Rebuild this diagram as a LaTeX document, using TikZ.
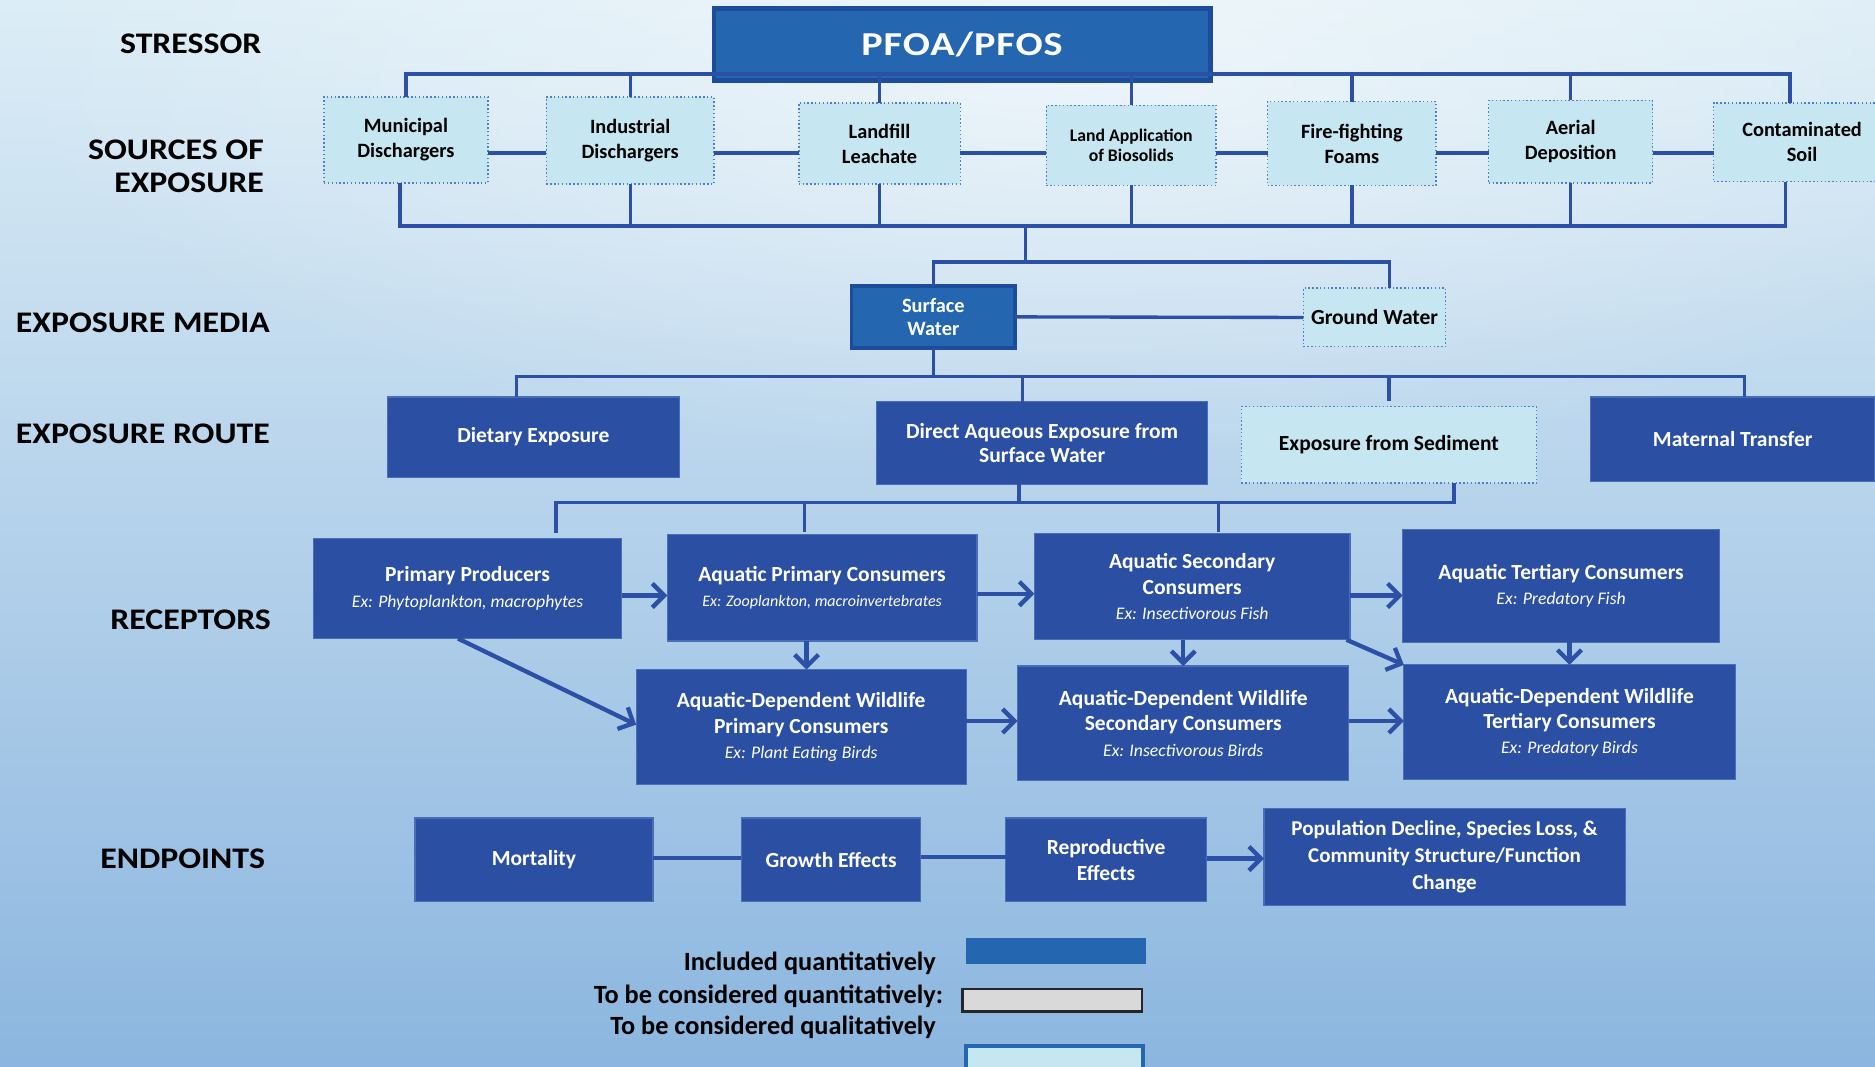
\documentclass[tikz,border=0pt]{standalone}
\usepackage{fontspec}
\setmainfont{Carlito}
\newfontfamily\secfont[FakeStretch=1.13]{Carlito}
\newfontfamily\titlefont[FakeStretch=1.2, LetterSpace=3]{Carlito}
\usetikzlibrary{arrows.meta,calc,fadings}

\definecolor{dkfill}{HTML}{2A4FA3}
\definecolor{dkedge}{HTML}{4A6DB8}
\definecolor{mdfill}{HTML}{2467B0}
\definecolor{mdedge}{HTML}{1E4C9C}
\definecolor{ltfill}{HTML}{C6E7F1}
\definecolor{ltedge}{HTML}{4F7FC4}
\definecolor{wire}{HTML}{2B50A5}
\definecolor{bgtop}{HTML}{DCEDF6}
\definecolor{bgmid}{HTML}{C2DCEE}
\definecolor{bgbot}{HTML}{8CB6DF}
\definecolor{swgrey}{HTML}{D9D9D9}

\tikzfading[name=glow, inner color=transparent!0, outer color=transparent!100]

% italic example line inside a receptor box
\newcommand\exln[2][7.4pt]{{\normalfont\itshape\fontsize{#1}{10.25pt}\selectfont #2}}

% box given by its corners: style, name, x1, y1, x2, y2, text
\newcommand\boxnode[7]{%
  \pgfmathsetmacro\bxw{(#5-#3)*0.5}%
  \pgfmathsetmacro\bxh{(#6-#4)*0.5}%
  \pgfmathsetmacro\bxx{(#3+#5)/2}%
  \pgfmathsetmacro\bxy{(#4+#6)/2}%
  \node[#1, minimum width=\bxw pt, minimum height=\bxh pt] (#2) at (\bxx,\bxy) {#7};}

\begin{document}
\begin{tikzpicture}[x=0.5pt,y=-0.5pt,
  wirestyle/.style={draw=wire, line width=1.4pt},
  chainwire/.style={draw=wire, line width=1.9pt},
  arrowwire/.style={draw=wire, line width=1.8pt, -{Straight Barb[length=5pt,width=10pt]}},
  boxbase/.style={inner sep=0pt, outer sep=0pt, align=center, font=\bfseries\fontsize{9pt}{10.5pt}\selectfont},
  dkbox/.style={boxbase, fill=dkfill, draw=dkedge, line width=0.5pt, text=white},
  mdbox/.style={boxbase, fill=mdfill, draw=mdedge, line width=1.5pt, text=white},
  ltbox/.style={boxbase, fill=ltfill, draw=ltedge, line width=0.6pt, densely dotted, text=black},
  srcfont/.style={font=\bfseries\fontsize{8.5pt}{10.5pt}\selectfont},
  seclabel/.style={anchor=east, align=right, inner sep=0pt, font=\secfont\bfseries\fontsize{12.5pt}{14pt}\selectfont},
  legtext/.style={anchor=east, inner sep=0pt, font=\bfseries\fontsize{11pt}{12pt}\selectfont},
]
\useasboundingbox (0,0) rectangle (1568,892);
\clip (0,0) rectangle (1568,892);

% background
\shade[top color=bgtop, middle color=bgmid, bottom color=bgbot] (0,0) rectangle (1568,892);
\fill[white, path fading=glow, fill opacity=0.55] (900,60) ellipse [x radius=900, y radius=330];

% row labels
\node[seclabel] (lstr) at (219,37) {STRESSOR};
\node[seclabel] (lsrc) at (221,139) {SOURCES OF\\EXPOSURE};
\node[seclabel] (lmed) at (226,270) {EXPOSURE MEDIA};
\node[seclabel] (lrou) at (226,363) {EXPOSURE ROUTE};
\node[seclabel] (lrec) at (227,518) {RECEPTORS};
\node[seclabel] (lend) at (222,718) {ENDPOINTS};

% stressor
\boxnode{mdbox, line width=2pt, font=\titlefont\bfseries\fontsize{14pt}{15pt}\selectfont}{pfoa}{597}{7}{1012}{67}{PFOA/PFOS}

% sources of exposure
\boxnode{ltbox, srcfont}{mun}{271}{81}{408}{153}{Municipal\\Dischargers}
\boxnode{ltbox, srcfont}{ind}{457}{81}{597}{154}{Industrial\\Dischargers}
\boxnode{ltbox, srcfont}{land}{668}{86}{803}{154}{Landfill\\Leachate}
\boxnode{ltbox, font=\bfseries\fontsize{7.4pt}{8.6pt}\selectfont}{bio}{875}{88}{1017}{155}{Land Application\\of Biosolids}
\boxnode{ltbox, srcfont}{fire}{1060}{85}{1201}{155}{Fire-fighting\\Foams}
\boxnode{ltbox, srcfont}{aer}{1245}{84}{1382}{153}{Aerial\\Deposition}
\boxnode{ltbox, srcfont}{soil}{1433}{86}{1581}{152}{Contaminated\\Soil}

% exposure media
\boxnode{mdbox, font=\bfseries\fontsize{8.5pt}{9.8pt}\selectfont}{sw}{712}{239}{849}{291}{Surface\\Water}
\boxnode{ltbox}{gw}{1090}{241}{1209}{290}{Ground Water}

% exposure routes
\boxnode{dkbox}{diet}{324}{332}{568}{399}{Dietary Exposure}
\boxnode{dkbox, font=\bfseries\fontsize{9pt}{10pt}\selectfont}{direct}{733}{336}{1010}{405}{Direct Aqueous Exposure from\\Surface Water}
\boxnode{ltbox}{sed}{1038}{340}{1285}{404}{Exposure from Sediment}
\boxnode{dkbox}{mat}{1330}{332}{1568}{403}{Maternal Transfer}

% receptors
\boxnode{dkbox}{pp}{262}{450}{520}{534}{Primary Producers\\\exln{Ex: Phytoplankton, macrophytes}}
\boxnode{dkbox}{apc}{558}{447}{817}{536}{Aquatic Primary Consumers\\\exln[6.7pt]{Ex: Zooplankton, macroinvertebrates}}
\boxnode{dkbox}{asc}{865}{446}{1129}{535}{Aquatic Secondary\\Consumers\\\exln{Ex: Insectivorous Fish}}
\boxnode{dkbox}{atc}{1173}{443}{1438}{537}{Aquatic Tertiary Consumers\\\exln{Ex: Predatory Fish}}
\boxnode{dkbox}{adwp}{532}{560}{808}{656}{Aquatic-Dependent Wildlife\\Primary Consumers\\\exln{Ex: Plant Eating Birds}}
\boxnode{dkbox}{adws}{851}{557}{1128}{653}{Aquatic-Dependent Wildlife\\Secondary Consumers\\\exln{Ex: Insectivorous Birds}}
\boxnode{dkbox}{adwt}{1174}{556}{1451}{652}{Aquatic-Dependent Wildlife\\Tertiary Consumers\\\exln{Ex: Predatory Birds}}

% endpoints
\boxnode{dkbox}{mort}{347}{684}{546}{754}{Mortality}
\boxnode{dkbox}{grow}{620}{684}{770}{754}{Growth Effects}
\boxnode{dkbox, font=\bfseries\fontsize{9pt}{11pt}\selectfont}{repro}{841}{684}{1009}{754}{Reproductive\\Effects}
\boxnode{dkbox, font=\bfseries\fontsize{8.8pt}{11.2pt}\selectfont}{pop}{1057}{676}{1359}{757}{Population Decline, Species Loss, \&\\Community Structure/Function\\Change}

% legend
\node[legtext] (leg1) at (783,806) {Included quantitatively};
\node[legtext] (leg2) at (789,833) {To be considered quantitatively:};
\node[legtext] (leg3) at (783,859) {To be considered qualitatively};
\boxnode{inner sep=0pt, fill=mdfill}{sw1}{808}{784}{958}{806}{}
\boxnode{inner sep=0pt, fill=swgrey, draw=black!85, line width=1pt}{sw2}{805}{827}{955}{846}{}
\boxnode{inner sep=0pt, fill=ltfill, draw=mdfill, line width=1.8pt}{sw3}{808}{875}{956}{905}{}

% ---- connectors ----
% stressor to sources
\coordinate (tb) at ($(pfoa.south)+(0,-5)$);
\coordinate (soilN) at ($(soil.north)+(-10,0)$);
\draw[wirestyle] (mun.north) -- (mun.north |- tb) -- (soilN |- tb) -- (soilN);
\foreach \s in {ind,land,bio,fire,aer} \draw[wirestyle] (\s.north) -- (\s.north |- tb);

% links between the sources
\coordinate (ch) at ($(mun.center)+(0,11)$);
\draw[chainwire] (mun.east |- ch) -- (ind.west |- ch)
                 (ind.east |- ch) -- (land.west |- ch)
                 (land.east |- ch) -- (bio.west |- ch)
                 (bio.east |- ch) -- (fire.west |- ch)
                 (fire.east |- ch) -- (aer.west |- ch)
                 (aer.east |- ch) -- (soil.west |- ch);

% sources to media
\coordinate (bb) at ($(land.south)+(0,35)$);
\coordinate (munS) at ($(mun.south)+(-5,0)$);
\coordinate (soilS) at ($(soil.south)+(-14,0)$);
\draw[wirestyle] (munS) -- (munS |- bb) -- (soilS |- bb) -- (soilS);
\foreach \s in {ind,land,bio,fire,aer} \draw[wirestyle] (\s.south) -- (\s.south |- bb);
\coordinate (mb) at ($(sw.north)+(0,-20)$);
\coordinate (mj) at ($(mb)+(77,0)$);
\coordinate (gwN) at ($(gw.north)+(12.5,0)$);
\draw[wirestyle] (mj |- bb) -- (mj);
\draw[wirestyle] (sw.north) -- (mb) -- (gwN |- mb) -- (gwN);
\draw[wirestyle] (sw.east) -- (gw.west);

% media to routes
\coordinate (rb) at ($(sw.south)+(0,24)$);
\coordinate (dietN) at ($(diet.north)+(-14,0)$);
\coordinate (dirN) at ($(direct.north)+(-16.5,0)$);
\coordinate (matN) at ($(mat.north)+(10,0)$);
\draw[wirestyle] (sw.south) -- (rb);
\draw[wirestyle] (dietN) -- (dietN |- rb) -- (matN |- rb) -- (matN);
\draw[wirestyle] (dirN) -- (dirN |- rb);
\draw[wirestyle, shorten <=2.5pt] (sed.north) -- (sed.north |- rb);

% routes to receptors
\coordinate (qb) at ($(direct.south)+(0,15)$);
\coordinate (dirS) at ($(direct.south)+(-19.5,0)$);
\coordinate (sedS) at ($(sed.south)+(54.5,0)$);
\coordinate (ppN) at ($(pp.north)+(74,0)$);
\coordinate (apcN) at ($(apc.north)+(-14.5,0)$);
\coordinate (ascN) at ($(asc.north)+(22,0)$);
\draw[wirestyle] (dirS) -- (dirS |- qb);
\draw[wirestyle, shorten >=2pt] (sedS) -- (sedS |- qb) -- (ppN |- qb) -- (ppN);
\draw[wirestyle, shorten <=1.2pt] (apcN) -- (apcN |- qb);
\draw[wirestyle, shorten <=0.6pt] (ascN) -- (ascN |- qb);

% food-web arrows
\coordinate (r1) at ($(pp.east)+(0,6)$);
\draw[arrowwire] (r1) -- (r1 -| apc.west);
\coordinate (r2) at ($(apc.east)+(0,5)$);
\draw[arrowwire] (r2) -- (r2 -| asc.west);
\coordinate (r3) at ($(asc.east)+(0,7.5)$);
\draw[arrowwire] (r3) -- (r3 -| atc.west);
\coordinate (r4) at ($(pp.south)+(-8,0)$);
\draw[arrowwire] (r4) -- ($(adwp.west)+(0,-2)$);
\coordinate (r5) at ($(apc.south)+(-13,0)$);
\draw[arrowwire] (r5) -- (r5 |- adwp.north);
\draw[arrowwire] (asc.south -| adws.north) -- (adws.north);
\draw[arrowwire] (atc.south -| adwt.north) -- (adwt.north);
\draw[arrowwire] ($(asc.south east)+(-3,0)$) -- (adwt.north west);
\coordinate (r6) at ($(adwp.east)+(0,-5)$);
\draw[arrowwire] (r6) -- (r6 -| adws.west);
\coordinate (r7) at ($(adws.east)+(0,-2)$);
\draw[arrowwire] (r7) -- (r7 -| adwt.west);

% endpoint links
\coordinate (e1) at ($(mort.east)+(0,-1.5)$);
\draw[wirestyle, line width=1.5pt] (e1) -- (e1 -| grow.west);
\coordinate (e2) at ($(grow.east)+(0,-2.5)$);
\draw[wirestyle, line width=1.5pt] (e2) -- (e2 -| repro.west);
\coordinate (e3) at ($(repro.east)+(0,-1)$);
\draw[arrowwire] (e3) -- (e3 -| pop.west);
\end{tikzpicture}
\end{document}
